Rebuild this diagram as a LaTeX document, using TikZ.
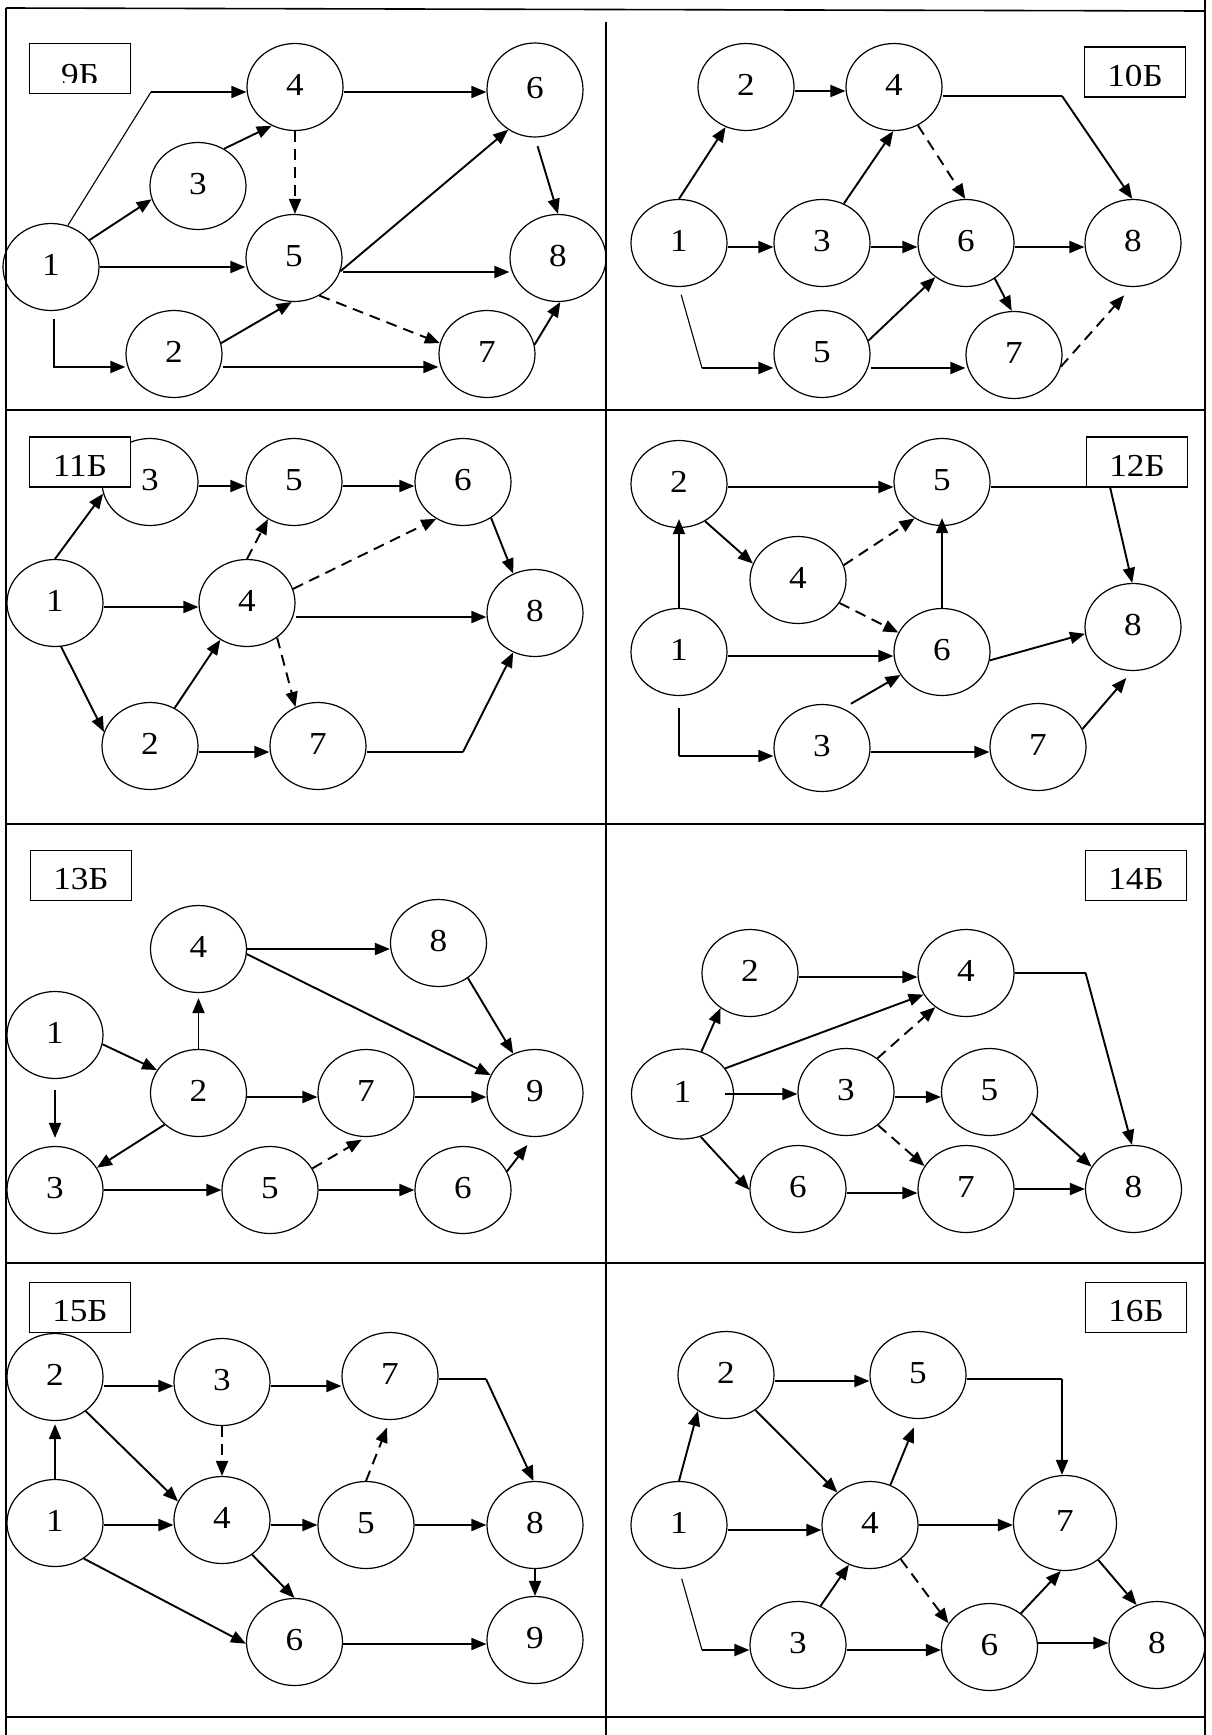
\documentclass[tikz,border=0pt]{standalone}
\usepackage{fontspec}
\setmainfont{Liberation Serif}[FakeStretch=1.1]
\usetikzlibrary{arrows.meta,shapes.geometric}
\newcommand\nodefont{\fontsize{32}{36}\selectfont}
\newcommand\hedge[4][ar]{\draw[#1] ([yshift=#4]#2.east) -- ([yshift=#4]#2.east -| #3.west);}
\newcommand\boxlab[5]{%
  \node[lab] (#1) at (#2,#3) {};
  \begin{scope}
  \clip ([xshift=1pt,yshift=-1pt]#1.north west) rectangle ([xshift=-1pt,yshift=-39.5pt]#1.north east);
  \node[labtxt] (#1t) at ([yshift=-#5]#1.north) {#4};
  \end{scope}}
\begin{document}
\begin{tikzpicture}[x=1pt,y=-1pt,
 v/.style={ellipse, draw, line width=1.2pt, minimum width=96pt, minimum height=87pt, inner sep=0pt, text height=20pt, text depth=4pt, font=\nodefont},
 lab/.style={rectangle, draw, fill=white, line width=1.2pt, minimum width=101pt, minimum height=50pt, inner sep=0pt},
 labtxt/.style={anchor=north, inner sep=0pt, text height=21.6pt, text depth=0pt, font=\nodefont},
 ar/.style={line width=1.9pt, -{Triangle[length=15pt,width=12pt]}},
 seg/.style={line width=1.1pt},
 da/.style={ar, dash pattern=on 11pt off 7pt},
 gridline/.style={line width=1.6pt}]
\useasboundingbox (0,0) rectangle (1212,1735);
\fill[white] (0,0) rectangle (1212,1735);
% table
\draw[gridline] (6,8) -- (1205,11);
\draw[gridline] (6,410) -- (1205,410);
\draw[gridline] (6,824) -- (1205,824);
\draw[gridline] (6,1263) -- (1205,1263);
\draw[gridline] (6,1717) -- (1205,1717);
\draw[gridline] (6,8) -- (6,1735);
\draw[gridline] (1205,0) -- (1205,1735);
\draw[gridline] (606,22) -- (606,1735);

% ---------- 9B ----------
\node[v] (a1) at (51,267) {1};
\node[v] (a2) at (174,354) {2};
\node[v] (a3) at (198,186) {3};
\node[v] (a4) at (295,87) {4};
\node[v] (a5) at (294,258) {5};
\node[v,minimum height=94pt] (a6) at (535,90) {6};
\node[v] (a7) at (487,354) {7};
\node[v] (a8) at (558,258) {8};
\coordinate (ka14) at (151,92);
\draw[seg] (a1.68) -- (ka14);
\draw[ar] (ka14) -- (ka14 -| a4.west);
\draw[ar] (a1.35) -- (a3.196);
\draw[ar] (a3.55) -- (a4.239);
\draw[da] (a4.south) -- (a4.south |- a5.north);
\hedge{a4}{a6}{-5pt}
\draw[ar, shorten <=9pt] (a6.south) -- (a8.north);
\hedge{a1}{a5}{0pt}
\draw[ar] (a5.-16) -- (a6.236);
\hedge{a5}{a8}{-14pt}
\draw[da] (a5.-56) -- (a7.167);
\draw[ar] (a2.13) -- (a5.267);
\coordinate (ka12) at (54,367);
\draw[ar, shorten <=8pt] (ka12 |- a1.south) -- (ka12) -- (ka12 -| a2.west);
\hedge{a2}{a7}{-13pt}
\draw[ar] (a7.11) -- (a8.-87);
\boxlab{l9}{80}{68.5}{9Б}{21pt}

% ---------- 10B ----------
\node[v] (b2) at (746,87) {2};
\node[v] (b4) at (894,87) {4};
\node[v] (b1) at (679,243) {1};
\node[v] (b3) at (822,243) {3};
\node[v] (b6) at (966,243) {6};
\node[v] (b8) at (1133,243) {8};
\node[v] (b5) at (822,354) {5};
\node[v] (b7) at (1014,355) {7};
\draw[ar] (b1.90) -- (b2.243);
\hedge{b2}{b4}{-4pt}
\hedge{b1}{b3}{-4pt}
\draw[ar] (b3.61) -- (b4.269);
\draw[da] (b4.-58) -- (b6.91);
\coordinate (kb48) at (1062,96);
\draw[seg] ([yshift=-9pt]b4.east) -- (kb48);
\draw[ar] (kb48) -- (b8.91);
\hedge{b3}{b6}{-4pt}
\hedge{b6}{b8}{-4pt}
\draw[ar] (b6.-51) -- (b7.93);
\coordinate (kb15) at (702,368);
\draw[seg, shorten <=8pt] (b1.south) -- (kb15);
\draw[ar] (kb15) -- (kb15 -| b5.west);
\draw[ar] (b5.16) -- (b6.228);
\hedge{b5}{b7}{-14pt}
\draw[da, shorten >=11pt] (b7.-14) -- (b8.268);
\boxlab{l10}{1135}{72}{10Б}{18pt}

% ---------- 11B ----------
\node[v] (c3) at (150,482) {3};
\node[v] (c5) at (294,482) {5};
\node[v] (c6) at (463,482) {6};
\node[v] (c1) at (55,603) {1};
\node[v] (c4) at (247,603) {4};
\node[v] (c8) at (535,613) {8};
\node[v] (c2) at (150,746) {2};
\node[v] (c7) at (318,746) {7};
\draw[ar] (c1.90) -- (c3.194);
\hedge{c3}{c5}{-4pt}
\hedge{c5}{c6}{-4pt}
\draw[da] (c4.90) -- (c5.235);
\draw[da] (c4.17) -- (c6.234);
\draw[ar] (c6.-52) -- (c8.119);
\hedge{c1}{c4}{-4pt}
\hedge{c4}{c8}{-14pt}
\draw[ar] (c1.-82) -- (c2.163);
\draw[ar] (c2.57) -- (c4.234);
\draw[da] (c4.-49) -- (c7.120);
\hedge{c2}{c7}{-6pt}
\coordinate (kc78) at (463,752);
\draw[seg] ([yshift=-6pt]c7.east) -- (kc78);
\draw[ar] (kc78) -- (c8.241);
\boxlab{l11}{80}{462}{11Б}{18pt}

% ---------- 12B ----------
\node[v] (d2) at (679,484) {2};
\node[v] (d5) at (942,482) {5};
\node[v] (d4) at (798,580) {4};
\node[v] (d8) at (1133,627) {8};
\node[v] (d1) at (679,652) {1};
\node[v] (d6) at (942,652) {6};
\node[v] (d3) at (822,748) {3};
\node[v] (d7) at (1038,747) {7};
\draw[ar, shorten >=-9pt] (d1.north) -- (d1.north |- d2.south);
\hedge{d2}{d5}{-3pt}
\draw[ar] (d2.-55) -- (d4.160);
\draw[da] (d4.18) -- (d5.233);
\draw[da] (d4.-29) -- (d6.156);
\draw[ar, shorten >=-8pt] (d6.north) -- (d6.north |- d5.south);
\coordinate (kd58) at (1110,487);
\draw[seg] ([yshift=-5pt]d5.east) -- (kd58);
\draw[ar] (kd58) -- (d8.91);
\hedge{d1}{d6}{-4pt}
\draw[ar] (d6.-10) -- (d8.188);
\draw[ar, shorten <=9pt] (d3.62) -- (d6.209);
\coordinate (kd13) at (679,756);
\draw[seg, shorten <=12pt] (d1.south) -- (kd13);
\draw[ar] (kd13) -- (kd13 -| d3.west);
\hedge{d3}{d7}{-4pt}
\draw[ar, shorten >=9pt] (d7.22) -- (d8.269);
\boxlab{l12}{1137}{462}{12Б}{18pt}

% ---------- 13B ----------
\node[v] (e4) at (198.5,949) {4};
\node[v] (e8) at (438.5,943) {8};
\node[v] (e1) at (55,1035) {1};
\node[v] (e2) at (198.5,1093) {2};
\node[v] (e7) at (366,1093) {7};
\node[v] (e9) at (535,1093) {9};
\node[v] (e3) at (55,1190) {3};
\node[v] (e5) at (270,1190) {5};
\node[v] (e6) at (463,1190) {6};
\hedge{e4}{e8}{0pt}
\draw[ar] (e4.-6) -- (e9.158);
\draw[ar] (e8.-50) -- (e9.119);
\draw[ar, shorten >=5pt] (e2.north) -- (e2.north |- e4.south);
\draw[ar] (e1.-11) -- (e2.151);
\draw[ar, shorten <=11pt, shorten >=8pt] (e1.south) -- (e1.south |- e3.north);
\hedge{e2}{e7}{-4pt}
\hedge{e7}{e9}{-4pt}
\draw[ar] (e2.223) -- (e3.28);
\hedge{e3}{e5}{0pt}
\draw[da, shorten >=5pt] (e5.27) -- (e7.270);
\hedge{e5}{e6}{0pt}
\draw[ar, shorten >=10pt] (e6.23) -- (e9.268);
\boxlab{l13}{81}{875.5}{13Б}{18pt}

% ---------- 14B ----------
\node[v] (f2) at (750,973) {2};
\node[v] (f4) at (966,973) {4};
\node[v,minimum width=102pt,minimum height=90pt] (f1) at (682.5,1094) {1};
\node[v] (f3) at (846,1092) {3};
\node[v] (f5) at (989.5,1092) {5};
\node[v] (f6) at (798,1189) {6};
\node[v] (f7) at (966,1189) {7};
\node[v] (f8) at (1133.5,1189) {8};
\draw[ar] (f1.66) -- (f2.230);
\hedge{f2}{f4}{-4pt}
\draw[ar] (f1.31) -- (f4.207);
\draw[da] (f3.47) -- (f4.228);
\coordinate (kf48) at (1085.6,973);
\draw[seg] (f4.east) -- (kf48);
\draw[ar] (kf48) -- (f8.92);
\draw[ar, shorten <=-9pt] (f1.east) -- (f1.east -| f3.west);
\hedge{f3}{f5}{-5pt}
\draw[da] (f3.-46) -- (f7.151);
\draw[ar] (f5.-27) -- (f8.152);
\draw[ar] (f1.-67) -- (f6.181);
\hedge{f6}{f7}{-4pt}
\hedge{f7}{f8}{0pt}
\boxlab{l14}{1136}{875.5}{14Б}{18pt}

% ---------- 15B ----------
\node[v] (g2) at (55,1377) {2};
\node[v] (g3) at (222,1382) {3};
\node[v] (g7) at (390,1376) {7};
\node[v] (g1) at (55,1523) {1};
\node[v] (g4) at (222,1520) {4};
\node[v] (g5) at (366,1525) {5};
\node[v] (g8) at (535,1525) {8};
\node[v] (g6) at (294.5,1642) {6};
\node[v] (g9) at (535,1640) {9};
\draw[ar, shorten >=3pt] (g1.north) -- (g1.north |- g2.south);
\hedge{g2}{g3}{-9pt}
\hedge{g3}{g7}{-4pt}
\draw[ar] (g2.-48) -- (g4.157);
\draw[da] (g3.south) -- (g3.south |- g4.north);
\draw[da, shorten >=8pt] (g5.90) -- (g7.270);
\coordinate (kg78) at (486,1379);
\draw[seg] ([yshift=-3pt]g7.east) -- (kg78);
\draw[ar] (kg78) -- (g8.92);
\hedge{g1}{g4}{-2pt}
\hedge{g4}{g5}{-5pt}
\hedge{g5}{g8}{0pt}
\draw[ar] (g8.south) -- (g8.south |- g9.north);
\draw[ar] (g4.-49) -- (g6.90);
\draw[ar] (g1.-51) -- (g6.182);
\hedge{g6}{g9}{-2pt}
\boxlab{l15}{80}{1307.5}{15Б}{18pt}

% ---------- 16B ----------
\node[v] (h2) at (726,1375) {2};
\node[v] (h5) at (918,1375) {5};
\node[v] (h1) at (679,1525) {1};
\node[v] (h4) at (870,1525) {4};
\node[v,minimum width=103pt,minimum height=95pt] (h7) at (1065,1523) {7};
\node[v] (h3) at (798,1645) {3};
\node[v] (h6) at (989.5,1647) {6};
\node[v] (h8) at (1157,1645) {8};
\draw[ar] (h1.90) -- (h2.232);
\hedge{h2}{h5}{-6pt}
\coordinate (kh57) at (1062,1379);
\draw[seg] ([yshift=-4pt]h5.east) -- (kh57);
\draw[ar] (kh57) -- (kh57 |- h7.north);
\draw[ar] (h2.-50) -- (h4.135);
\draw[ar, shorten >=9pt] (h4.63) -- (h5.269);
\hedge{h1}{h4}{-5pt}
\hedge{h4}{h7}{0pt}
\draw[ar] (h7.-48) -- (h8.117);
\draw[da] (h4.-48) -- (h6.150);
\draw[ar] (h3.60) -- (h4.242);
\coordinate (kh13) at (702,1650);
\draw[seg, shorten <=10pt] (h1.south) -- (kh13);
\draw[ar] (kh13) -- (kh13 -| h3.west);
\hedge{h3}{h6}{-5pt}
\draw[ar] (h6.47) -- (h7.265);
\hedge{h6}{h8}{4pt}
\boxlab{l16}{1136}{1307.5}{16Б}{18pt}
\end{tikzpicture}
\end{document}
